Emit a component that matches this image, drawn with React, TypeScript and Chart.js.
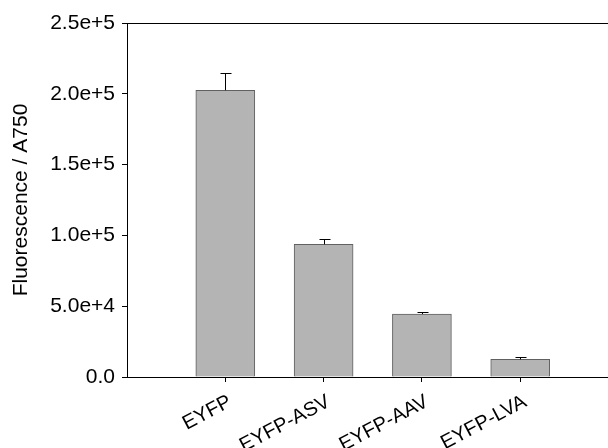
import React, { useEffect, useRef } from 'react';
import { Chart, registerables } from 'chart.js';

Chart.register(...registerables);

const categories = ['EYFP', 'EYFP-ASV', 'EYFP-AAV', 'EYFP-LVA'];
const positions = [1, 2, 3, 4];
const values = [202500, 93700, 44500, 12500];
const errors = [12000, 4000, 1200, 1400];
const yTicks = [0, 50000, 100000, 150000, 200000, 250000];
const yTitle = 'Fluorescence / A750';

const FONT = '"Liberation Sans", Arial, Helvetica, sans-serif';

const fmt = (v: number) => (v === 0 ? '0.0' : v.toExponential(1));

const labelShiftPlugin = {
  id: 'labelShift',
  beforeDraw(chart: any) {
    const xs = chart.scales.x;
    const items = xs.getLabelItems(chart.chartArea);
    items.forEach((it: any) => {
      if (!it._shifted) {
        it.options.translation = [it.options.translation[0] + 5, it.options.translation[1]];
        it._shifted = true;
      }
    });
  },
};

const errorBarPlugin = {
  id: 'errorBars',
  afterDatasetsDraw(chart: any) {
    const ctx = chart.ctx;
    const xs = chart.scales.x;
    const ys = chart.scales.y;
    const { left, right, top, bottom } = chart.chartArea;
    ctx.save();
    ctx.strokeStyle = '#000';
    ctx.lineWidth = 1;
    values.forEach((v, i) => {
      const x = Math.round(xs.getPixelForValue(positions[i])) + 0.5;
      const y0 = ys.getPixelForValue(v);
      const y1 = Math.round(ys.getPixelForValue(v + errors[i])) + 0.5;
      ctx.beginPath();
      ctx.moveTo(x, y0);
      ctx.lineTo(x, y1);
      ctx.moveTo(x - 5, y1);
      ctx.lineTo(x + 6, y1);
      ctx.stroke();
    });
    // top frame line
    ctx.beginPath();
    ctx.moveTo(left, Math.round(top) + 0.5);
    ctx.lineTo(right, Math.round(top) + 0.5);
    // x axis line extends slightly left of y axis
    ctx.moveTo(left - 4, Math.round(bottom) + 0.5);
    ctx.lineTo(left, Math.round(bottom) + 0.5);
    ctx.stroke();
    ctx.restore();
  },
};

export default function App() {
  const ref = useRef<HTMLCanvasElement | null>(null);

  useEffect(() => {
    if (!ref.current) return;
    const chart = new Chart(ref.current, {
      type: 'bar',
      data: {
        datasets: [
          {
            data: positions.map((p, i) => ({ x: p, y: values[i] })),
            backgroundColor: '#b4b4b4',
            borderColor: '#606060',
            borderWidth: 1,
            barThickness: 59,
          },
        ],
      },
      options: {
        animation: false,
        responsive: true,
        maintainAspectRatio: false,
        devicePixelRatio: 1,
        layout: { padding: { top: 23, right: 0, left: 0, bottom: 0 } },
        plugins: {
          legend: { display: false },
          tooltip: { enabled: false },
        },
        scales: {
          x: {
            type: 'linear',
            offset: false,
            min: 0,
            max: 4.893,
            afterBuildTicks: (s: any) => {
              s.ticks = positions.map((v) => ({ value: v }));
            },
            afterFit: (s: any) => {
              s.height = 71;
            },
            ticks: {
              callback: (v: any) => {
                const i = positions.indexOf(Number(v));
                return i >= 0 ? categories[i] : '';
              },
              autoSkip: false,
              minRotation: 28,
              maxRotation: 28,
              color: '#000',
              padding: 8,
              font: { family: FONT, size: 20 },
            },
            grid: {
              display: true,
              offset: false,
              drawOnChartArea: false,
              drawTicks: true,
              tickLength: 5,
              color: '#000',
            },
            border: { display: true, color: '#000', width: 1 },
          },
          y: {
            type: 'linear',
            min: 0,
            max: 250000,
            afterBuildTicks: (s: any) => {
              s.ticks = yTicks.map((v) => ({ value: v }));
            },
            afterFit: (s: any) => {
              s.width = 127;
            },
            ticks: {
              callback: (v: any) => fmt(Number(v)),
              color: '#000',
              padding: 7,
              font: { family: FONT, size: 21 },
            },
            grid: {
              display: true,
              drawOnChartArea: false,
              drawTicks: true,
              tickLength: 5,
              color: '#000',
            },
            border: { display: true, color: '#000', width: 1 },
            title: {
              display: true,
              text: yTitle,
              color: '#000',
              font: { family: FONT, size: 21 },
              padding: { top: 9, bottom: 0 },
            },
          },
        },
      },
      plugins: [labelShiftPlugin, errorBarPlugin],
    } as any);
    return () => chart.destroy();
  }, []);

  return (
    <div style={{ position: 'absolute', left: 0, top: 0, width: 608, height: 448 }}>
      <canvas ref={ref} />
    </div>
  );
}
